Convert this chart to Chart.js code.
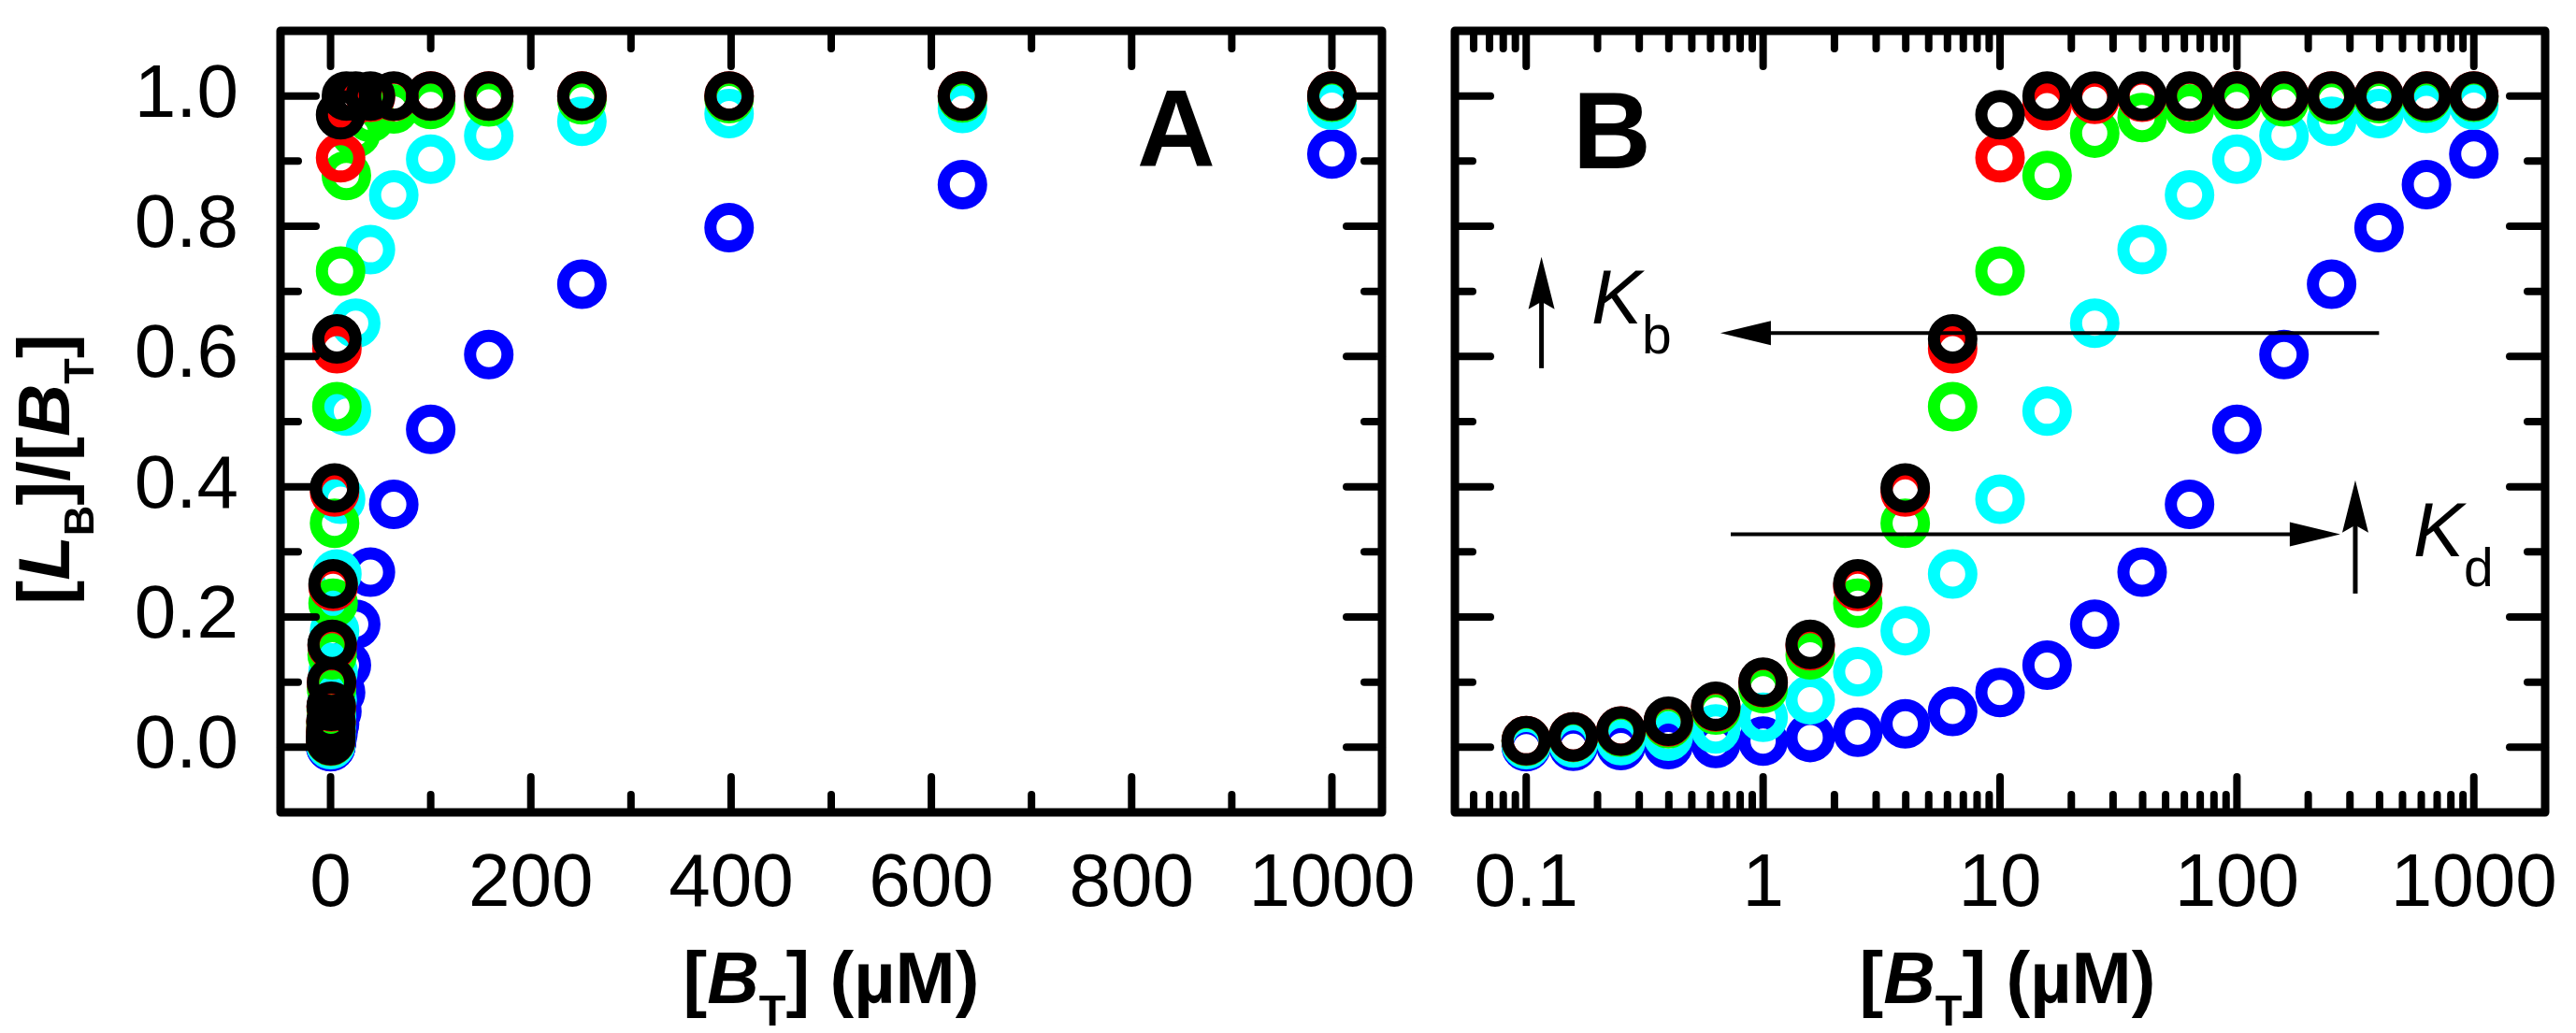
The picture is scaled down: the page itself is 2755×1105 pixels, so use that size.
<!DOCTYPE html>
<html lang="en">
<head>
<meta charset="UTF-8" />
<title>Binding curves A / B</title>
<script src="https://cdn.jsdelivr.net/npm/chart.js"></script>
<style>
  html, body { margin: 0; padding: 0; background: #fff; overflow: hidden; }
  body { width: 2755px; height: 1105px; position: relative; color: #000;
         font-family: "Liberation Sans", Arial, sans-serif; }
  canvas { position: absolute; top: 0; }
  #chartA { left: 0; }
  #chartB { left: 1520px; }
  .lbl { position: absolute; line-height: 1; white-space: nowrap; z-index: 2; }
  .lbl .s { position: relative; }
  .xt { width: 600px; text-align: center; font-size: 77px; font-weight: bold; top: 1008px; }
</style>
</head>
<body>
<canvas id="chartA" width="1520" height="1105"></canvas>
<canvas id="chartB" width="1235" height="1105"></canvas>

<!-- panel letters -->
<div class="lbl" style="left:1216px; top:80px; font-size:116px; font-weight:bold">A</div>
<div class="lbl" style="left:1682px; top:82px; font-size:116px; font-weight:bold">B</div>

<!-- axis titles -->
<div class="lbl xt" style="left:589px">[<i>B</i><span class="s" style="font-size:47px; top:24px">T</span>] (µM)</div>
<div class="lbl xt" style="left:1847px">[<i>B</i><span class="s" style="font-size:47px; top:24px">T</span>] (µM)</div>
<div class="lbl" style="left:-203px; top:463px; width:500px; text-align:center; font-size:78px; font-weight:bold; transform:rotate(-90deg)">[<i>L</i><span class="s" style="font-size:45px; top:26px">B</span>]/[<i>B</i><span class="s" style="font-size:45px; top:26px">T</span>]</div>

<!-- K labels -->
<div class="lbl" style="left:1702px; top:278px; font-size:81px"><i>K</i><span class="s" style="font-size:57px; top:32px">b</span></div>
<div class="lbl" style="left:2581px; top:527px; font-size:81px"><i>K</i><span class="s" style="font-size:57px; top:32px">d</span></div>

<script>
  // total binder concentration [B_T] (uM)
  const bt = [0.1, 0.158, 0.251, 0.398, 0.631, 1, 1.58, 2.51, 3.98, 6.31, 10,
              15.8, 25.1, 39.8, 63.1, 100, 158, 251, 398, 631, 1000];

  // [L_B]/[B_T] for the five curves
  const blackVals = [0.010, 0.016, 0.025, 0.040, 0.063, 0.100, 0.158, 0.251, 0.398, 0.627, 0.971,
                     1.0, 1.0, 1.0, 1.0, 1.0, 1.0, 1.0, 1.0, 1.0, 1.0];
  const redVals   = [0.010, 0.016, 0.025, 0.039, 0.062, 0.099, 0.156, 0.247, 0.392, 0.612, 0.905,
                     0.985, 0.995, 0.998, 0.999, 1.0, 1.0, 1.0, 1.0, 1.0, 1.0];
  const greenVals = [0.009, 0.015, 0.023, 0.036, 0.057, 0.090, 0.142, 0.221, 0.344, 0.523, 0.731,
                     0.878, 0.943, 0.967, 0.980, 0.987, 0.991, 0.994, 0.996, 0.997, 0.998];
  const cyanVals  = [0.004, 0.0065, 0.010, 0.017, 0.028, 0.046, 0.073, 0.116, 0.179, 0.266, 0.381,
                     0.516, 0.651, 0.764, 0.848, 0.903, 0.939, 0.961, 0.973, 0.981, 0.986];
  const blueVals  = [0.001, 0.0016, 0.0025, 0.004, 0.006, 0.0095, 0.015, 0.023, 0.036, 0.055, 0.084,
                     0.126, 0.189, 0.269, 0.373, 0.488, 0.603, 0.711, 0.798, 0.864, 0.911];

  // axis ranges and ticks
  const yRange = [-0.1, 1.1];
  const xRangeA = [-50, 1050];
  const xRangeB = [0.05, 2000];
  const yMajor = [0, 0.2, 0.4, 0.6, 0.8, 1.0];
  const yMinor = [0.1, 0.3, 0.5, 0.7, 0.9];
  const xMajorA = [0, 200, 400, 600, 800, 1000];
  const xMinorA = [100, 300, 500, 700, 900];
  const xMajorB = [0.1, 1, 10, 100, 1000];
  const xMinorB = [0.06, 0.07, 0.08, 0.09];
  [0.1, 1, 10, 100].forEach(d => { for (let k = 2; k <= 9; k++) xMinorB.push(+(d * k).toPrecision(3)); });

  // arrows in panel B (data coords): [from, tip]
  const kbLineY = 0.636, kbLineX = [398, 0.66];
  const kbMarkX = 0.116, kbMarkY = [0.582, 0.753];
  const kdLineY = 0.327, kdLineX = [0.73, 273];
  const kdMarkX = 316, kdMarkY = [0.236, 0.41];

  const FONT = "'Liberation Sans', Arial, sans-serif";

  function datasets() {
    // first one is drawn on top
    const list = [
      [blackVals, "#000000"],
      [redVals, "#ff0000"],
      [greenVals, "#00ff00"],
      [cyanVals, "#00ffff"],
      [blueVals, "#0000ff"],
    ];
    return list.map(([vals, c]) => ({
      data: bt.map((x, i) => ({ x: x, y: vals[i] })),
      showLine: false,
      pointStyle: "circle",
      pointRadius: 20,
      pointHoverRadius: 20,
      pointBorderWidth: 13,
      borderColor: c,
      pointBorderColor: c,
      backgroundColor: "rgba(0,0,0,0)",
      pointBackgroundColor: "rgba(0,0,0,0)",
      clip: false,
    }));
  }

  // fixed range + own tick list, so chart.js does not round the ends
  function fixTicks(range, vals) {
    return s => {
      s.min = range[0];
      s.max = range[1];
      if (vals) s.ticks = vals.map(v => ({ value: v }));
    };
  }

  // fixed axis sizes; drop the label overhang padding so the plot box stays put
  const fitX = s => { s.height = 236; s.paddingLeft = 0; s.paddingRight = 0; };
  const fitY = s => { s.width = 300; s.paddingTop = 0; s.paddingBottom = 0; };

  function framePlugin(xMajor, xMinor) {
    return {
      id: "frame",
      afterDraw(chart) {
        const { ctx, chartArea: a } = chart;
        const xs = chart.scales.x, ys = chart.scales.y;
        ctx.save();
        ctx.strokeStyle = "#000";
        ctx.lineCap = "round";
        ctx.lineWidth = 8;
        const seg = (x1, y1, x2, y2) => {
          ctx.beginPath(); ctx.moveTo(x1, y1); ctx.lineTo(x2, y2); ctx.stroke();
        };
        const xt = (vals, len) => vals.forEach(v => {
          const p = xs.getPixelForValue(v);
          seg(p, a.bottom, p, a.bottom - len);
          seg(p, a.top, p, a.top + len);
        });
        const yt = (vals, len) => vals.forEach(v => {
          const p = ys.getPixelForValue(v);
          seg(a.left, p, a.left + len, p);
          seg(a.right, p, a.right - len, p);
        });
        xt(xMajor, 38); xt(xMinor, 19);
        yt(yMajor, 38); yt(yMinor, 19);
        ctx.lineCap = "butt";
        ctx.lineJoin = "round";
        ctx.lineWidth = 9;
        ctx.strokeRect(a.left, a.top, a.right - a.left, a.bottom - a.top);
        ctx.restore();
      },
    };
  }

  const arrowPlugin = {
    id: "arrows",
    afterDatasetsDraw(chart) {
      const { ctx } = chart;
      const xs = chart.scales.x, ys = chart.scales.y;
      ctx.save();
      ctx.strokeStyle = "#000";
      ctx.fillStyle = "#000";
      // horizontal arrows
      const hArrow = (yv, [from, tip]) => {
        const y = ys.getPixelForValue(yv);
        const x0 = xs.getPixelForValue(from), x1 = xs.getPixelForValue(tip);
        const dir = Math.sign(x1 - x0);
        ctx.lineWidth = 4;
        ctx.beginPath(); ctx.moveTo(x0, y); ctx.lineTo(x1 - dir * 20, y); ctx.stroke();
        ctx.beginPath();
        ctx.moveTo(x1, y);
        ctx.lineTo(x1 - dir * 54, y - 13);
        ctx.lineTo(x1 - dir * 54, y + 13);
        ctx.closePath(); ctx.fill();
      };
      // vertical arrows (pointing up)
      const vArrow = (xv, [from, tip]) => {
        const x = xs.getPixelForValue(xv);
        const y0 = ys.getPixelForValue(from), y1 = ys.getPixelForValue(tip);
        ctx.lineWidth = 5;
        ctx.beginPath(); ctx.moveTo(x, y0); ctx.lineTo(x, y1 + 20); ctx.stroke();
        ctx.beginPath();
        ctx.moveTo(x, y1);
        ctx.lineTo(x - 14, y1 + 56);
        ctx.lineTo(x, y1 + 48);
        ctx.lineTo(x + 14, y1 + 56);
        ctx.closePath(); ctx.fill();
      };
      hArrow(kbLineY, kbLineX);
      vArrow(kbMarkX, kbMarkY);
      hArrow(kdLineY, kdLineX);
      vArrow(kdMarkX, kdMarkY);
      ctx.restore();
    },
  };

  const tickFont = { family: FONT, size: 80 };

  new Chart(document.getElementById("chartA"), {
    type: "scatter",
    data: { datasets: datasets() },
    options: {
      responsive: false,
      animation: false,
      devicePixelRatio: 1,
      layout: { padding: { top: 19, right: 42, left: 0, bottom: 0 } },
      plugins: { legend: { display: false }, tooltip: { enabled: false } },
      scales: {
        x: {
          type: "linear", min: xRangeA[0], max: xRangeA[1], bounds: "data",
          grid: { display: false, drawTicks: false }, border: { display: false },
          afterBuildTicks: fixTicks(xRangeA, xMajorA),
          afterFit: fitX,
          ticks: { padding: 30, color: "#000", font: tickFont, maxRotation: 0, autoSkip: false,
                   callback: v => String(v) },
        },
        y: {
          type: "linear", min: yRange[0], max: yRange[1], bounds: "data",
          grid: { display: false, drawTicks: false }, border: { display: false },
          afterBuildTicks: fixTicks(yRange, yMajor),
          afterFit: fitY,
          ticks: { padding: 45, color: "#000", font: tickFont, autoSkip: false,
                   callback: v => v.toFixed(1) },
        },
      },
    },
    plugins: [framePlugin(xMajorA, xMinorA)],
  });

  new Chart(document.getElementById("chartB"), {
    type: "scatter",
    data: { datasets: datasets() },
    options: {
      responsive: false,
      animation: false,
      devicePixelRatio: 1,
      layout: { padding: { top: 19, right: 18, left: 36, bottom: 0 } },
      plugins: { legend: { display: false }, tooltip: { enabled: false } },
      scales: {
        x: {
          type: "logarithmic", min: xRangeB[0], max: xRangeB[1], bounds: "data",
          grid: { display: false, drawTicks: false }, border: { display: false },
          afterBuildTicks: fixTicks(xRangeB, xMajorB),
          afterFit: fitX,
          ticks: { padding: 30, color: "#000", font: tickFont, maxRotation: 0, autoSkip: false,
                   callback: v => String(v) },
        },
        y: {
          type: "linear", min: yRange[0], max: yRange[1], bounds: "data", display: false,
          afterBuildTicks: fixTicks(yRange, yMajor),
        },
      },
    },
    plugins: [framePlugin(xMajorB, xMinorB), arrowPlugin],
  });
</script>
</body>
</html>
